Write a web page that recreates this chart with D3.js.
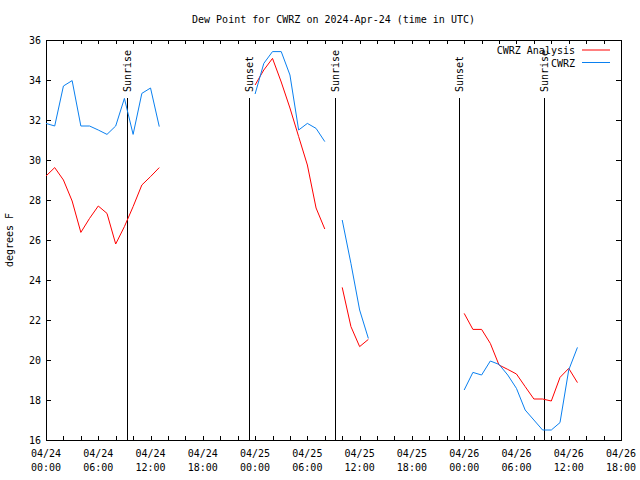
<!DOCTYPE html>
<html><head><meta charset="utf-8">
<script src="https://cdn.jsdelivr.net/npm/d3@7/dist/d3.min.js"></script>
<style>body{margin:0;background:#fff}svg{display:block}text{font-family:"DejaVu Sans Mono","Liberation Mono",monospace;font-size:10px;fill:#000}</style>
</head><body><svg id="c" width="640" height="480"></svg>
<script>
const hours = d3.range(0, 62);
const analysis = [29.2,29.62,29.0,27.95,26.38,27.08,27.7,27.33,25.8,26.67,27.67,28.75,29.17,29.62,
 null,null,null,null,null,null,null,null,null,null,
 33.75,34.5,35.08,33.9,32.6,31.17,29.75,27.6,26.55,
 null,
 23.63,21.67,20.67,21.03,
 null,null,null,null,null,null,null,null,null,null,
 22.33,21.53,21.53,20.83,19.75,19.53,19.3,18.67,18.05,18.05,17.95,19.13,19.58,18.87];
const observed = [31.83,31.7,33.7,33.97,31.7,31.7,31.5,31.28,31.7,33.08,31.28,33.33,33.6,31.67,
 null,null,null,null,null,null,null,null,null,null,
 33.3,34.83,35.42,35.42,34.25,31.5,31.83,31.58,30.92,
 null,
 27.0,24.83,22.5,21.08,
 null,null,null,null,null,null,null,null,null,null,
 18.5,19.38,19.25,19.95,19.78,19.25,18.58,17.5,17.0,16.5,16.5,16.87,19.5,20.63];
const sunEvents = [{h:9.26,label:"Sunrise"},{h:23.3,label:"Sunset"},{h:33.2,label:"Sunrise"},{h:47.4,label:"Sunset"},{h:57.2,label:"Sunrise"}];
const yTicks = [16,18,20,22,24,26,28,30,32,34,36];
const seriesNames = ["CWRZ Analysis","CWRZ"];
const colors = ["#ff0000","#0a80f0"];

const t0 = Date.UTC(2024,3,24,0,0);
const H = 3600e3;
const L=46,R=621,T=40,B=440;
const svg = d3.select("#c");
const x = d3.scaleUtc().domain([new Date(t0), new Date(t0+66*H)]).range([L,R]);
const y = d3.scaleLinear().domain([16,36]).range([B,T]);

// title
svg.append("text").attr("x",(L+R)/2).attr("y",23).attr("text-anchor","middle").text("Dew Point for CWRZ on 2024-Apr-24 (time in UTC)");

// frame
svg.append("rect").attr("x",L).attr("y",T).attr("width",R-L).attr("height",B-T).attr("fill","none").attr("stroke","#000").attr("stroke-width",1).attr("shape-rendering","crispEdges");

// x ticks
const minor = d3.range(0,67,2).map(h=>new Date(t0+h*H));
const g = svg.append("g").attr("shape-rendering","crispEdges").attr("stroke","#000");
minor.forEach(d=>{
  const xx = Math.round(x(d))+0.5;
  g.append("line").attr("x1",xx).attr("x2",xx).attr("y1",B).attr("y2",B-4);
  g.append("line").attr("x1",xx).attr("x2",xx).attr("y1",T).attr("y2",T+4);
});
yTicks.forEach(v=>{
  const yy = Math.round(y(v))+0.5;
  g.append("line").attr("x1",L).attr("x2",L+5).attr("y1",yy).attr("y2",yy);
  g.append("line").attr("x1",R).attr("x2",R-5).attr("y1",yy).attr("y2",yy);
});
const fmtD = d3.utcFormat("%m/%d"), fmtT = d3.utcFormat("%H:%M");
d3.range(0,67,6).map(h=>new Date(t0+h*H)).forEach(d=>{
  svg.append("text").attr("x",x(d)).attr("y",457).attr("text-anchor","middle").text(fmtD(d));
  svg.append("text").attr("x",x(d)).attr("y",471).attr("text-anchor","middle").text(fmtT(d));
});
yTicks.forEach(v=>{
  svg.append("text").attr("x",41).attr("y",y(v)+4).attr("text-anchor","end").text(v);
});
svg.append("text").attr("transform","translate(13,240) rotate(-90)").attr("text-anchor","middle").text("degrees F");

// sun events
sunEvents.forEach(e=>{
  const xx = Math.round(x(new Date(t0+e.h*H)))+0.5;
  svg.append("line").attr("x1",xx).attr("x2",xx).attr("y1",98).attr("y2",B).attr("stroke","#000").attr("shape-rendering","crispEdges");
  svg.append("text").attr("transform",`translate(${xx+3.5},92) rotate(-90)`).attr("text-anchor","start").text(e.label);
});

// lines
const line = d3.line().defined(d=>d[1]!==null).x(d=>x(new Date(t0+d[0]*H))).y(d=>y(d[1]));
[analysis, observed].forEach((s,i)=>{
  svg.append("path").datum(hours.map((h,j)=>[h,s[j]])).attr("d",line).attr("fill","none").attr("stroke",colors[i]).attr("stroke-width",1);
});

// legend
seriesNames.forEach((n,i)=>{
  const yy = 50 + i*12.5;
  svg.append("text").attr("x",575).attr("y",yy+4).attr("text-anchor","end").text(n);
  svg.append("line").attr("x1",582).attr("x2",610).attr("y1",yy).attr("y2",yy).attr("stroke",colors[i]);
});
</script></body></html>
